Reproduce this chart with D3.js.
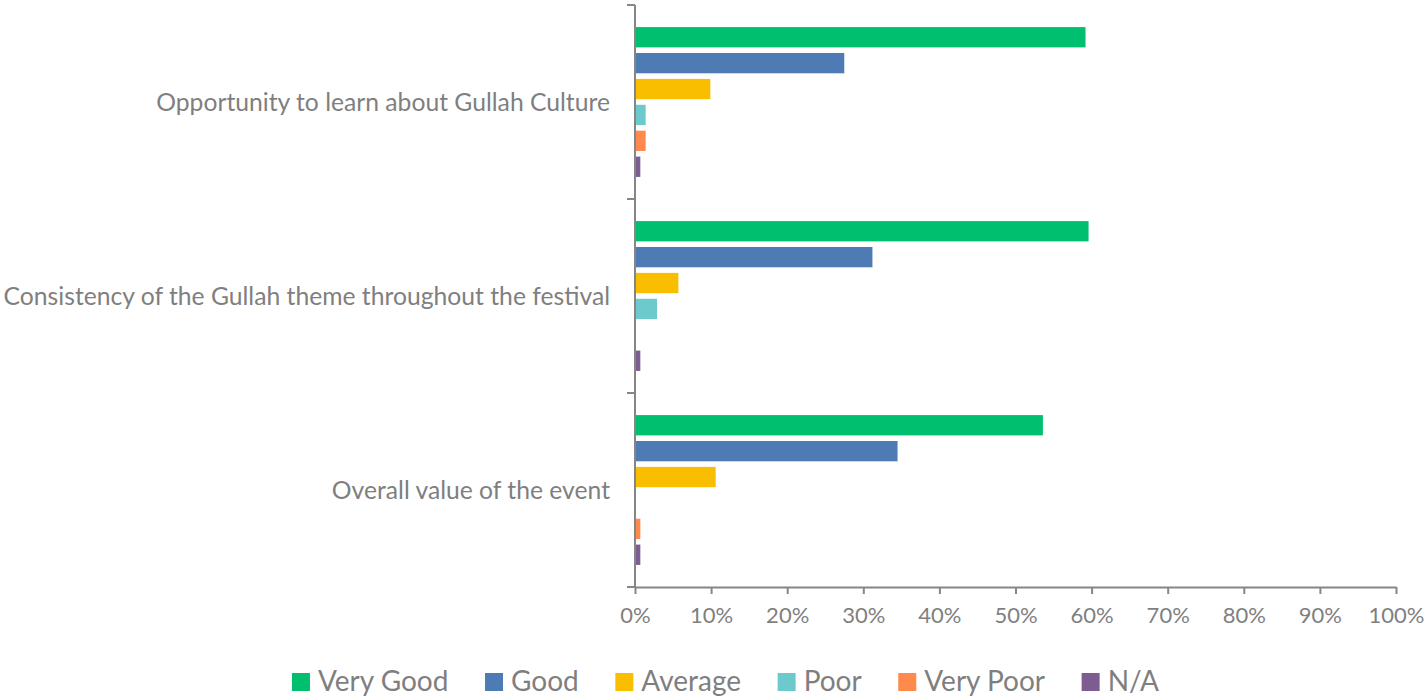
<!DOCTYPE html>
<html>
<head>
<meta charset="utf-8">
<script src="https://cdn.jsdelivr.net/npm/d3@7"></script>
<style>
  html, body { margin: 0; padding: 0; background: #ffffff; }
  svg { display: block; font-family: Lato, "Open Sans", sans-serif; }
</style>
</head>
<body>
<svg id="chart" width="1427" height="696"></svg>
<script>
// Survey aspects (top to bottom)
const categories = [
  "Opportunity to learn about Gullah Culture",
  "Consistency of the Gullah theme throughout the festival",
  "Overall value of the event"
];

// Rating shares per aspect, in percent
const veryGood = [59.2, 59.6, 53.6];
const good     = [27.5, 31.2, 34.5];
const average  = [9.9, 5.7, 10.6];
const poor     = [1.4, 2.9, 0];
const veryPoor = [1.4, 0, 0.7];
const na       = [0.7, 0.7, 0.7];

const seriesNames = ["Very Good", "Good", "Average", "Poor", "Very Poor", "N/A"];
const seriesColors = ["#00BF6F", "#4E7BB4", "#F9BE00", "#6CC9CC", "#FF8A4C", "#7D5C91"];
const xTicks = [0, 10, 20, 30, 40, 50, 60, 70, 80, 90, 100];

const seriesValues = [veryGood, good, average, poor, veryPoor, na];

const svg = d3.select("#chart");
const textColor = "#7F7F7F";
const axisColor = "#868686";

const plot = { left: 635, right: 1396, top: 5, bottom: 587 };

const x = d3.scaleLinear().domain([0, 100]).range([plot.left, plot.right]);
const y0 = d3.scaleBand().domain(categories).range([plot.top, plot.bottom]).padding(0);
const y1 = d3.scaleBand().domain(seriesNames).range([0, y0.bandwidth()])
  .paddingInner(0.216).paddingOuter(0.853);
const color = d3.scaleOrdinal().domain(seriesNames).range(seriesColors);

// Bars
const groups = svg.append("g").selectAll("g")
  .data(categories)
  .join("g")
  .attr("transform", d => `translate(0,${y0(d)})`);

groups.selectAll("rect")
  .data((c, ci) => seriesNames.map((s, si) => ({ series: s, value: seriesValues[si][ci] })))
  .join("rect")
  .filter(d => d.value > 0)
  .attr("x", x(0))
  .attr("y", d => y1(d.series))
  .attr("width", d => x(d.value) - x(0))
  .attr("height", y1.bandwidth())
  .attr("fill", d => color(d.series));

// X axis
const xAxis = d3.axisBottom(x)
  .tickValues(xTicks)
  .tickFormat(d => d + "%")
  .tickSizeInner(7)
  .tickSizeOuter(0)
  .tickPadding(13);

const gx = svg.append("g")
  .attr("transform", `translate(0,${plot.bottom})`)
  .call(xAxis);
gx.select(".domain").attr("stroke", axisColor).attr("stroke-width", 2);
gx.selectAll(".tick line").attr("stroke", axisColor).attr("stroke-width", 2);
gx.selectAll(".tick text")
  .attr("fill", textColor)
  .style("font-size", "22px")
  .style("font-family", "Lato, sans-serif");

// Y axis: line with ticks at category boundaries, labels centered in bands
const boundaries = categories.map(c => y0(c)).concat([plot.bottom]);
svg.append("line")
  .attr("x1", plot.left).attr("x2", plot.left)
  .attr("y1", plot.top).attr("y2", plot.bottom)
  .attr("stroke", axisColor).attr("stroke-width", 2);
svg.append("g").selectAll("line")
  .data(boundaries)
  .join("line")
  .attr("x1", plot.left - 8).attr("x2", plot.left)
  .attr("y1", d => d).attr("y2", d => d)
  .attr("stroke", axisColor).attr("stroke-width", 2);

svg.append("g").selectAll("text")
  .data(categories)
  .join("text")
  .attr("x", plot.left - 25)
  .attr("y", d => y0(d) + y0.bandwidth() / 2)
  .attr("dy", "0.35em")
  .attr("text-anchor", "end")
  .attr("fill", textColor)
  .style("font-size", "24.7px")
  .text(d => d);

// Legend
const legend = svg.append("g").attr("class", "legend");
const legendFont = 28;
const sw = 18, textGap = 8, itemGap = 36.6;
const items = legend.selectAll("g")
  .data(seriesNames)
  .join("g");
items.append("rect")
  .attr("width", sw).attr("height", sw)
  .attr("y", 673)
  .attr("fill", d => color(d));
items.append("text")
  .attr("x", sw + textGap)
  .attr("y", 691)
  .attr("fill", textColor)
  .style("font-size", legendFont + "px")
  .text(d => d);

let widths = [];
items.each(function () {
  widths.push(sw + textGap + d3.select(this).select("text").node().getComputedTextLength());
});
const total = d3.sum(widths) + itemGap * (widths.length - 1);
let cx = 1427 / 2 - total / 2 + 12;
items.attr("transform", (d, i) => {
  const t = `translate(${cx},0)`;
  cx += widths[i] + itemGap;
  return t;
});
</script>
</body>
</html>
